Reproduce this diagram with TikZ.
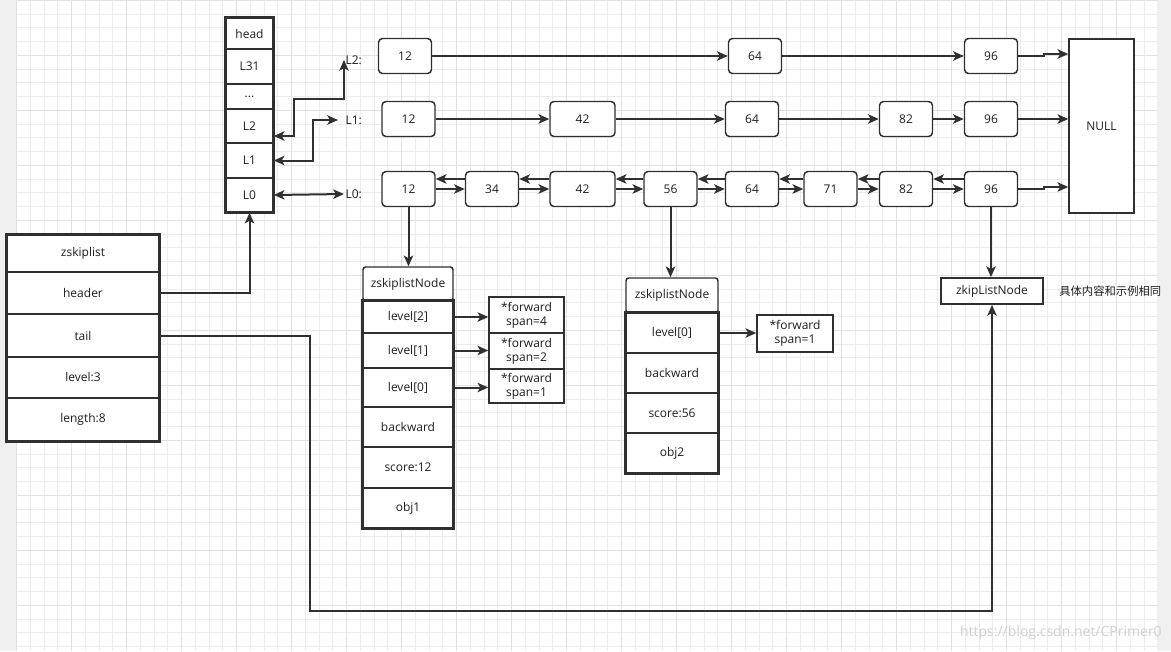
\documentclass[tikz,border=0pt]{standalone}
\usepackage{fontspec}
\setmainfont{Open Sans}
\newfontfamily\cjk{Noto Sans CJK SC}
\usepackage{tikz}
\usetikzlibrary{arrows.meta,positioning}
\definecolor{zsline}{RGB}{48,48,48}
\definecolor{zstext}{RGB}{30,30,30}
\definecolor{zsgrid}{RGB}{236,236,236}
\definecolor{zsgridmajor}{RGB}{225,225,225}
\definecolor{zsstrip}{RGB}{240,240,240}
\definecolor{zsmark}{RGB}{208,208,208}
\tikzstyle{arrow} = [line width=1.5pt,-{Stealth[length=8pt,width=7pt,inset=2pt]},color=zsline]
\tikzstyle{dualarrow} = [arrow,{Stealth[length=8pt,width=7pt,inset=2pt]}-{Stealth[length=8pt,width=7pt,inset=2pt]}]
\tikzstyle{cell} = [rectangle, draw=zsline, fill=white, line width=1.1pt, text=zstext, inner sep=0pt, align=center, font=\fontsize{9}{10.5}\selectfont]
\tikzstyle{outer} = [draw=zsline, line width=1.4pt]
\tikzstyle{headcell} = [cell, minimum width=35.25pt]
\tikzstyle{listcell} = [cell, minimum width=114pt]
\tikzstyle{skipnode} = [cell, rounded corners=3pt, minimum width=39.75pt, minimum height=26.25pt]
\tikzstyle{levlabel} = [anchor=west, inner sep=1pt, text=zstext, font=\fontsize{9}{10.5}\selectfont]
\tikzstyle{gridline} = [draw=zsgrid, line width=0.75pt]
\tikzstyle{gridmajor} = [draw=zsgridmajor, line width=0.75pt]

\begin{document}
\begin{tikzpicture}[x=0.75pt, y=-0.75pt]
\useasboundingbox (0,0) rectangle (1171,651);
% canvas and grid
\fill[white] (0,0) rectangle (1171,651);
\fill[zsstrip] (0,0) rectangle (16.7,651);
\fill[zsstrip] (1157,0) rectangle (1171,651);
\foreach \k in {0,...,82} \draw[gridline] ({16.7+13.75*\k},0) -- ++(0,651);
\foreach \k in {0,...,47} \draw[gridline] (16.7,{0.25+13.75*\k}) -- (1157,{0.25+13.75*\k});
\foreach \k in {0,4,...,80} \draw[gridmajor] ({16.7+13.75*\k},0) -- ++(0,651);
\foreach \k in {0,4,...,44} \draw[gridmajor] (16.7,{0.25+13.75*\k}) -- (1157,{0.25+13.75*\k});

% header levels
\node[headcell, minimum height=23.25pt] (head) at (249.5,33.5) {head};
\node[headcell, minimum height=26.25pt] (l31) at (249.5,66.5) {L31};
\node[headcell, minimum height=18.75pt] (ldots) at (249.5,96.5) {...};
\node[headcell, minimum height=25.5pt] (l2) at (249.5,126) {L2};
\node[headcell, minimum height=26.25pt] (l1) at (249.5,160.5) {L1};
\node[headcell, minimum height=25.5pt] (l0) at (249.5,195) {L0};
\draw[outer, line width=1.8pt] (head.north west) rectangle (l0.south east);

\node[levlabel] (lab2) at (344,60) {L2:};
\node[levlabel] (lab1) at (344,120) {L1:};
\node[levlabel] (lab0) at (344,194) {L0:};

% level 2
\node[skipnode] (a12) at (405,56) {12};
\node[skipnode] (a64) at (755,56) {64};
\node[skipnode] (a96) at (991,56) {96};
% level 1
\node[skipnode] (m12) at (408.5,119) {12};
\node[skipnode, minimum width=48.75pt] (m42) at (582.5,119) {42};
\node[skipnode] (m64) at (752,119) {64};
\node[skipnode] (m82) at (906,119) {82};
\node[skipnode] (m96) at (991,119) {96};
% level 0
\node[skipnode] (b12) at (408.5,189) {12};
\node[skipnode] (b34) at (492,189) {34};
\node[skipnode, minimum width=48.75pt] (b42) at (582.5,189) {42};
\node[skipnode] (b56) at (670.5,189) {56};
\node[skipnode] (b64) at (752,189) {64};
\node[skipnode] (b71) at (830.5,189) {71};
\node[skipnode] (b82) at (906,189) {82};
\node[skipnode] (b96) at (991,189) {96};

\node[cell, minimum width=48.75pt, minimum height=130.5pt] (null) at (1101.5,126) {NULL};

% links from the header
\draw[dualarrow] ([yshift=-7.5pt]l2.east) -- ++(20,0) |- (lab2.west |- 0,99) -- (lab2.west);
\draw[dualarrow] (l1.east) -- ++(39,0) |- ([xshift=-4.5pt]lab1.west);
\draw[dualarrow] (l0.east) -- (lab0.west);

% forward pointers
\draw[arrow] (a12) -- (a64);
\draw[arrow] (a64) -- (a96);
\draw[arrow] (a96.east) -- ++(26,0) |- (null.west |- 0,54);
\draw[arrow] (m12) -- (m42);
\draw[arrow] (m42) -- (m64);
\draw[arrow] (m64) -- (m82);
\draw[arrow] (m82) -- (m96);
\draw[arrow] (m96.east) -- (m96.east -| null.west);
\draw[arrow] (b12) -- (b34);
\draw[arrow] (b34) -- (b42);
\draw[arrow] (b42) -- (b56);
\draw[arrow] (b56) -- (b64);
\draw[arrow] (b64) -- (b71);
\draw[arrow] (b71) -- (b82);
\draw[arrow] (b82) -- (b96);
\draw[arrow] (b96.east) -- ++(26,0) |- (null.west |- 0,187);

% backward pointers
\draw[arrow] ([yshift=7.5pt]b34.west) -- ([yshift=7.5pt]b12.east);
\draw[arrow] ([yshift=7.5pt]b42.west) -- ([yshift=7.5pt]b34.east);
\draw[arrow] ([yshift=7.5pt]b56.west) -- ([yshift=7.5pt]b42.east);
\draw[arrow] ([yshift=7.5pt]b64.west) -- ([yshift=7.5pt]b56.east);
\draw[arrow] ([yshift=7.5pt]b71.west) -- ([yshift=7.5pt]b64.east);
\draw[arrow] ([yshift=7.5pt]b82.west) -- ([yshift=7.5pt]b71.east);
\draw[arrow] ([yshift=7.5pt]b96.west) -- ([yshift=7.5pt]b82.east);

% node 12
\node[cell, rounded corners=2pt, minimum width=67.5pt, minimum height=25.5pt] (zn1) at (408,284) {zskiplistNode};
\node[cell, minimum width=67.5pt, minimum height=24pt] (lv2) at (408,317) {level[2]};
\node[cell, minimum width=67.5pt, minimum height=26.25pt] (lv1) at (408,350.5) {level[1]};
\node[cell, minimum width=67.5pt, minimum height=29.25pt] (lv0) at (408,387.5) {level[0]};
\node[cell, minimum width=67.5pt, minimum height=30pt] (bw1) at (408,427) {backward};
\node[cell, minimum width=67.5pt, minimum height=30.75pt] (sc1) at (408,467.5) {score:12};
\node[cell, minimum width=67.5pt, minimum height=30pt] (obj1) at (408,508) {obj1};
\draw[outer] (lv2.north west) rectangle (obj1.south east);
\node[cell, minimum width=56.25pt, minimum height=27pt] (f4) at (526.5,315) {*forward\\span=4};
\node[cell, minimum width=56.25pt, minimum height=27pt] (f2) at (526.5,351) {*forward\\span=2};
\node[cell, minimum width=56.25pt, minimum height=25.5pt] (f1) at (526.5,386) {*forward\\span=1};
\draw[arrow] (lv2.east) -- (lv2.east -| f4.west);
\draw[arrow] (lv1.east) -- (lv1.east -| f2.west);
\draw[arrow] (lv0.east) -- (lv0.east -| f1.west);
\draw[arrow] (b12.south) -- (b12.south |- zn1.north);

% node 56
\node[cell, rounded corners=2pt, minimum width=69pt, minimum height=26.25pt] (zn2) at (672,295.5) {zskiplistNode};
\node[cell, minimum width=69pt, minimum height=30pt] (lw0) at (672,333) {level[0]};
\node[cell, minimum width=69pt, minimum height=30pt] (bw2) at (672,373) {backward};
\node[cell, minimum width=69pt, minimum height=30pt] (sc2) at (672,413) {score:56};
\node[cell, minimum width=69pt, minimum height=30pt] (obj2) at (672,453) {obj2};
\draw[outer] (lw0.north west) rectangle (obj2.south east);
\node[cell, minimum width=57pt, minimum height=27.75pt] (g1) at (795,333.5) {*forward\\span=1};
\draw[arrow] (lw0.east) -- (lw0.east -| g1.west);
\draw[arrow] (b56.south) -- (b56.south |- zn2.north);

% node 96
\node[cell, line width=1.4pt, minimum width=76.5pt, minimum height=19.5pt] (zl) at (992,291) {zkipListNode};
\node[anchor=west, inner sep=0pt, text=zstext, font=\cjk\fontsize{8.5}{10}\selectfont] (note) at (1059,291) {具体内容和示例相同};
\draw[arrow] (b96.south) -- (b96.south |- zl.north);

% zskiplist
\node[listcell, minimum height=27.75pt] (zsl) at (83,253.5) {zskiplist};
\node[listcell, minimum height=31.5pt] (header) at (83,293) {header};
\node[listcell, minimum height=32.25pt] (tail) at (83,335.5) {tail};
\node[listcell, minimum height=30.75pt] (level) at (83,377.5) {level:3};
\node[listcell, minimum height=32.25pt] (length) at (83,419.5) {length:8};
\draw[outer] (zsl.north west) rectangle (length.south east);
\coordinate (tailturn) at (310,611);
\draw[arrow] (header.east) -| (l0.south);
\draw[arrow] (tail.east) -| (tailturn) -| (zl.south);

\node[anchor=east, inner sep=0pt, text=zsmark, font=\fontsize{10.5}{12}\selectfont] (mark) at (1162,633) {https://blog.csdn.net/CPrimer0};
\end{tikzpicture}
\end{document}
